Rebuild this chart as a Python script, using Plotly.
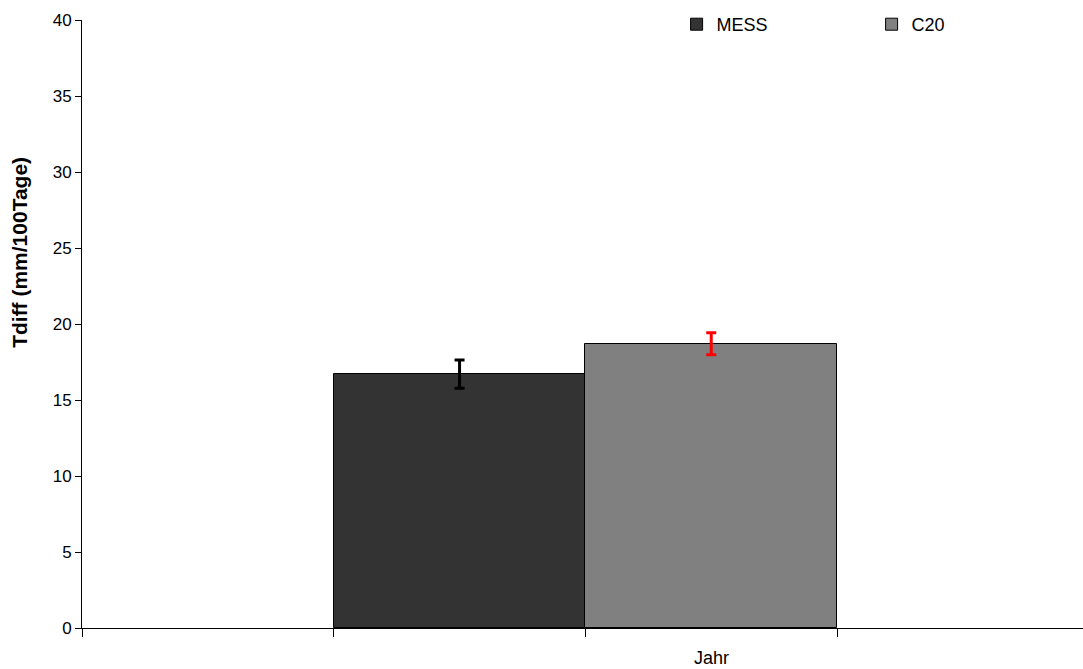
import plotly.graph_objects as go

# Series values and error margins (Tdiff, mm/100 Tage)
series = ["MESS", "C20"]
values = [16.7, 18.7]
errors = [0.93, 0.72]
bar_colors = ["#333333", "#808080"]
err_colors = ["#000000", "#ff0000"]

# Category slots on the x axis
slot_positions = [1.5, 2.5]
category_label = ["Jahr"]
category_label_pos = [2.5]

y_ticks = [0, 5, 10, 15, 20, 25, 30, 35, 40]
y_title = "Tdiff (mm/100Tage)"

FONT = "Liberation Sans, Arial"

fig = go.Figure()
for name, v, e, bc, ec, xp in zip(series, values, errors, bar_colors, err_colors, slot_positions):
    fig.add_trace(go.Bar(
        x=[xp], y=[v], name=name, width=1.0,
        marker=dict(color=bc, line=dict(color="#000000", width=1)),
        error_y=dict(type="data", array=[e], visible=True, color=ec, thickness=3, width=5),
    ))

for lab, pos in zip(category_label, category_label_pos):
    fig.add_annotation(x=pos, y=0, xref="x", yref="y", text=lab, showarrow=False,
                       yshift=-30, font=dict(family=FONT, size=18, color="#000"))

# rotated axis title, placed a little above the axis midpoint
fig.add_annotation(x=0, y=0.617, xref="paper", yref="paper", xanchor="center", yanchor="middle",
                   xshift=-62, text="<b>" + y_title + "</b>", textangle=-90, showarrow=False,
                   font=dict(family=FONT, size=21, color="#000"))

fig.update_layout(
    width=1083, height=669,
    margin=dict(l=82, r=0, t=20, b=41, autoexpand=False),
    paper_bgcolor="white", plot_bgcolor="white",
    font=dict(family=FONT, size=17, color="#000"),
    bargap=0,
    legend=dict(orientation="h", xref="paper", yref="paper", x=0.594, y=0.9926,
                xanchor="left", yanchor="middle", font=dict(size=18),
                entrywidth=150, itemwidth=30, bgcolor="rgba(0,0,0,0)"),
)
fig.update_xaxes(range=[0, 3.977], tickvals=[0, 1, 2, 3, 4], ticktext=["", "", "", "", ""],
                 ticks="outside", ticklen=8, tickcolor="#000", showline=True, linecolor="#000",
                 linewidth=1, showgrid=False, zeroline=False)
fig.update_yaxes(range=[0, 40], tickvals=y_ticks, ticks="outside", ticklen=6, tickcolor="#000",
                 showline=True, linecolor="#000", linewidth=1, showgrid=False, zeroline=False,
                 tickfont=dict(size=17))

fig.write_html("out.html")
